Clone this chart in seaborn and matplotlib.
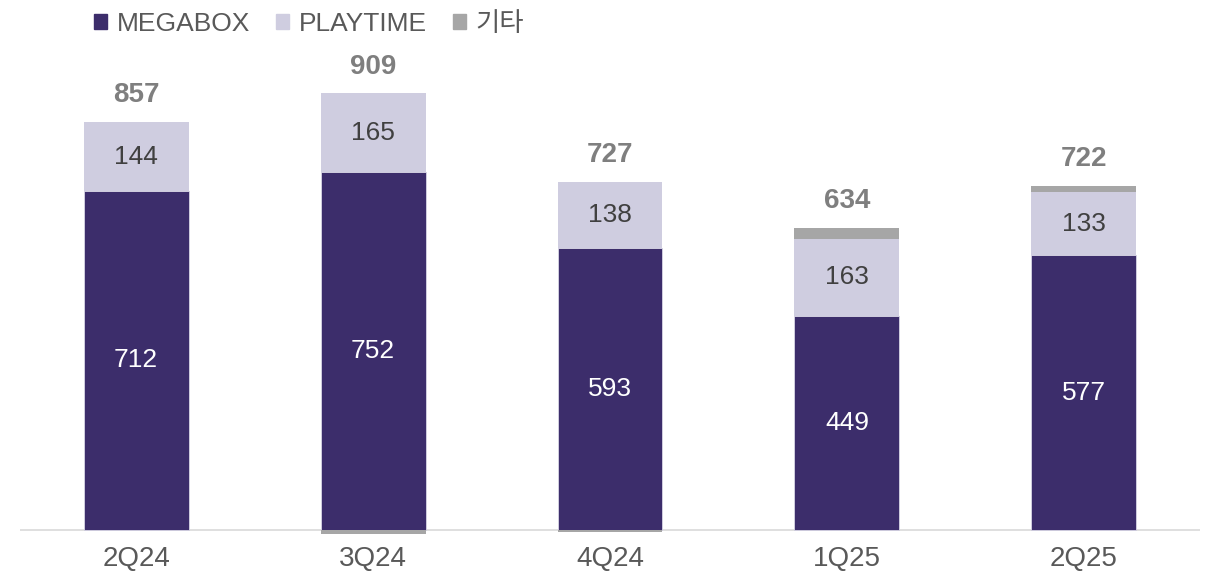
import matplotlib
matplotlib.use("Agg")
import matplotlib.pyplot as plt
from matplotlib.patches import Patch
import seaborn as sns
import pandas as pd

# data
quarters = ["2Q24", "3Q24", "4Q24", "1Q25", "2Q25"]
megabox = [712, 752, 593, 449, 577]
playtime = [144, 165, 138, 163, 133]
etc = [1, -8, -4, 22, 12]
totals = [857, 909, 727, 634, 722]

c_mega = "#3c2d6b"
c_play = "#cfcde0"
c_etc = "#a6a6a6"

sns.set_theme(style="white")
plt.rcParams["font.family"] = ["Liberation Sans", "Noto Sans CJK KR", "DejaVu Sans"]

df = pd.DataFrame({"q": quarters, "mega": megabox, "play": playtime, "etc": etc})
df["stack"] = df["mega"] + df["play"]
df["etc_bottom"] = [s if e > 0 else 0 for s, e in zip(df["stack"], df["etc"])]

fig = plt.figure(figsize=(12.12, 5.76), dpi=100)
ax = fig.add_axes([0.0165, 0.0634, 0.9736, 0.843])

w = 0.443
sns.barplot(data=df, x="q", y="mega", color=c_mega, width=w, ax=ax,
            saturation=1, edgecolor="#d8d6e6", linewidth=0.6)
sns.barplot(data=df, x="q", y="play", bottom=df["mega"], color=c_play, width=w,
            ax=ax, saturation=1, linewidth=0)
sns.barplot(data=df, x="q", y="etc", bottom=df["etc_bottom"], color=c_etc, width=w,
            ax=ax, saturation=1, linewidth=0)

ax.set_xlim(-0.49, 4.49)
ax.set_ylim(-20, 1000)
ax.axhline(0, color="#d9d9d9", lw=1.2, zorder=0)
for s in ax.spines.values():
    s.set_visible(False)
ax.set_yticks([])
ax.set_xlabel("")
ax.set_ylabel("")
ax.tick_params(axis="x", length=0, pad=5, labelsize=20, labelcolor="#595959")

for i in range(len(quarters)):
    ax.text(i, megabox[i] / 2, str(megabox[i]), ha="center", va="center",
            fontsize=19, color="white")
    ax.text(i, megabox[i] + playtime[i] / 2, str(playtime[i]), ha="center",
            va="center", fontsize=19, color="#404040")
    top = megabox[i] + playtime[i] + max(etc[i], 0)
    ax.annotate(str(totals[i]), (i, top), xytext=(0, 10), textcoords="offset points",
                ha="center", va="bottom", fontsize=20, fontweight="bold",
                color="#7f7f7f")

handles = [Patch(color=c_mega, label="MEGABOX"),
           Patch(color=c_play, label="PLAYTIME"),
           Patch(color=c_etc, label="기타")]
fig.legend(handles=handles, loc="upper left", bbox_to_anchor=(0.058, 1.02), ncol=3,
           frameon=False, fontsize=19, handlelength=0.5, handleheight=0.5,
           handletextpad=0.35, columnspacing=1.0, labelcolor="#595959")

fig.savefig("out.png", dpi=100)
